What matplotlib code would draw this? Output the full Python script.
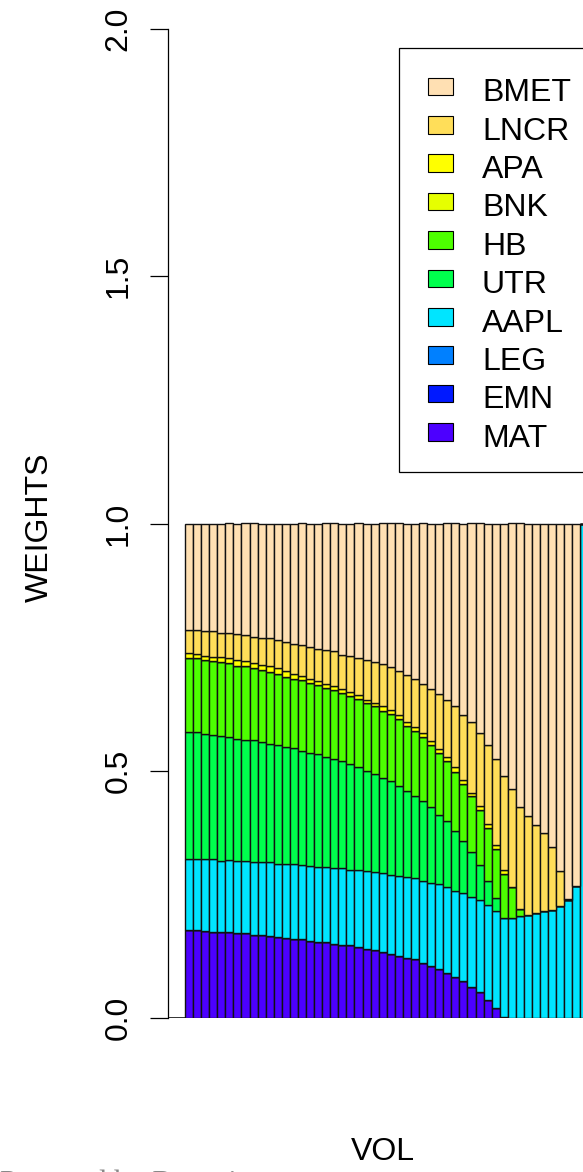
import matplotlib
matplotlib.use("Agg")
import matplotlib.pyplot as plt
from matplotlib.patches import Rectangle

plt.rcParams["font.family"] = ["Liberation Sans", "DejaVu Sans"]

# Assets, stacked from the bottom of each bar upwards
assets = ["MAT", "EMN", "LEG", "AAPL", "UTR", "HB", "BNK", "APA", "LNCR", "BMET"]
colors = ["#4C00FF", "#0019FF", "#0080FF", "#00E5FF", "#00FF4D",
          "#4DFF00", "#E6FF00", "#FFFF00", "#FFDE59", "#FFE0B3"]

# Portfolio weights along the frontier (one value per portfolio)
mat = [0.177, 0.177, 0.176, 0.173, 0.173, 0.173, 0.171, 0.171, 0.167, 0.167,
       0.166, 0.163, 0.162, 0.160, 0.160, 0.156, 0.154, 0.153, 0.150, 0.147,
       0.147, 0.144, 0.140, 0.137, 0.134, 0.130, 0.125, 0.122, 0.119, 0.112,
       0.105, 0.099, 0.092, 0.082, 0.075, 0.063, 0.052, 0.037, 0.021, 0.002,
       0.0, 0.0, 0.0, 0.0, 0.0, 0.0, 0.0, 0.0, 0.0, 0.0]
emn = [0.0] * 50
leg = [0.0] * 50
aapl = [0.145, 0.145, 0.146, 0.148, 0.145, 0.146, 0.147, 0.147, 0.149, 0.149,
        0.149, 0.149, 0.150, 0.151, 0.149, 0.152, 0.152, 0.153, 0.153, 0.156,
        0.153, 0.156, 0.158, 0.159, 0.159, 0.160, 0.163, 0.164, 0.164, 0.165,
        0.169, 0.171, 0.172, 0.175, 0.178, 0.182, 0.186, 0.191, 0.195, 0.200,
        0.202, 0.206, 0.209, 0.212, 0.216, 0.219, 0.226, 0.238, 0.267, 1.000]
utr = [0.256, 0.256, 0.253, 0.251, 0.253, 0.250, 0.247, 0.245, 0.246, 0.243,
       0.240, 0.241, 0.236, 0.234, 0.231, 0.228, 0.228, 0.221, 0.221, 0.216,
       0.214, 0.207, 0.202, 0.197, 0.193, 0.190, 0.181, 0.173, 0.166, 0.162,
       0.153, 0.140, 0.134, 0.121, 0.104, 0.091, 0.072, 0.049, 0.026, 0.0,
       0.0, 0.0, 0.0, 0.0, 0.0, 0.0, 0.0, 0.0, 0.0, 0.0]
hb = [0.151, 0.150, 0.148, 0.149, 0.149, 0.148, 0.147, 0.148, 0.145, 0.145,
      0.145, 0.143, 0.141, 0.140, 0.143, 0.142, 0.140, 0.140, 0.140, 0.139,
      0.137, 0.138, 0.136, 0.137, 0.135, 0.135, 0.136, 0.132, 0.132, 0.130,
      0.125, 0.126, 0.122, 0.119, 0.116, 0.112, 0.111, 0.107, 0.099, 0.090,
      0.062, 0.015, 0.0, 0.0, 0.0, 0.0, 0.0, 0.0, 0.0, 0.0]
bnk = [0.0] * 50
apa = [0.010, 0.008, 0.010, 0.010, 0.010, 0.012, 0.012, 0.011, 0.010, 0.010,
       0.012, 0.011, 0.012, 0.011, 0.008, 0.007, 0.007, 0.008, 0.008, 0.008,
       0.008, 0.008, 0.008, 0.008, 0.009, 0.008, 0.008, 0.008, 0.007, 0.008,
       0.008, 0.007, 0.008, 0.010, 0.008, 0.008, 0.007, 0.008, 0.008, 0.008,
       0.0, 0.0, 0.0, 0.0, 0.0, 0.0, 0.0, 0.0, 0.0, 0.0]
lncr = [0.046, 0.049, 0.049, 0.051, 0.048, 0.050, 0.052, 0.053, 0.053, 0.054,
        0.056, 0.058, 0.060, 0.060, 0.063, 0.065, 0.066, 0.070, 0.070, 0.069,
        0.073, 0.074, 0.079, 0.082, 0.086, 0.086, 0.089, 0.095, 0.097, 0.099,
        0.106, 0.113, 0.115, 0.123, 0.132, 0.142, 0.148, 0.161, 0.175, 0.190,
        0.199, 0.206, 0.199, 0.178, 0.159, 0.127, 0.071, 0.002, 0.0, 0.0]
bmet = [0.214, 0.214, 0.218, 0.218, 0.221, 0.222, 0.224, 0.226, 0.230, 0.232,
        0.232, 0.235, 0.238, 0.243, 0.247, 0.250, 0.253, 0.256, 0.259, 0.265,
        0.268, 0.274, 0.277, 0.280, 0.286, 0.292, 0.299, 0.306, 0.315, 0.325,
        0.334, 0.344, 0.358, 0.370, 0.386, 0.403, 0.425, 0.447, 0.476, 0.510,
        0.538, 0.574, 0.592, 0.610, 0.625, 0.654, 0.703, 0.760, 0.733, 0.0]

series = [mat, emn, leg, aapl, utr, hb, bnk, apa, lncr, bmet]
y_ticks = [0.0, 0.5, 1.0, 1.5, 2.0]
y_tick_labels = ["0.0", "0.5", "1.0", "1.5", "2.0"]

W, H = 583, 1172
fig = plt.figure(figsize=(W / 100, H / 100), dpi=100)
fig.patch.set_facecolor("white")

# Plot region in pixel terms
ax_left, ax_right, ax_top, ax_bottom = 168, 583, 29, 1018
ax = fig.add_axes([ax_left / W, (H - ax_bottom) / H,
                   (ax_right - ax_left) / W, (ax_bottom - ax_top) / H])
bar_px = 8.07
first_bar_px = 185
ax.set_xlim((ax_left - first_bar_px) / bar_px, (ax_right - first_bar_px) / bar_px)
ax.set_ylim(0, 2)

n = len(mat)
xs = [i + 0.5 for i in range(n)]
bottom = [0.0] * n
for vals, col in zip(series, colors):
    ax.bar(xs, vals, width=1.0, bottom=bottom, color=col,
           edgecolor="#111111", linewidth=1.0)
    bottom = [b + v for b, v in zip(bottom, vals)]

ax.axhline(0, color="#333333", linewidth=1.4, zorder=0.5)

for side in ["top", "right", "bottom"]:
    ax.spines[side].set_visible(False)
ax.spines["left"].set_bounds(0, 2)
ax.spines["left"].set_linewidth(0.9)
ax.set_xticks([])
ax.set_yticks(y_ticks)
ax.set_yticklabels(y_tick_labels, rotation=90, va="center", fontsize=23)
ax.tick_params(axis="y", length=13, width=0.9, pad=12)

# Axis titles
fig.text(40 / W, 1 - 527 / H, "WEIGHTS", rotation=90, ha="center", va="center",
         fontsize=23)
fig.text(383 / W, 1 - 1152 / H, "VOL", ha="center", va="center", fontsize=23)

# Gray serif footnote at the lower left
fig.text(0 / W, 1 - 1192 / H, "Powered by Rmetrics", ha="left", va="baseline",
         fontsize=22, color="#888888", family=["Liberation Serif", "DejaVu Serif"])

# Legend box (top to bottom: BMET ... MAT)
px = fig.dpi_scale_trans
def to_in(x, y):
    return x / 100, (H - y) / 100

bx, by = to_in(399, 472)
fig.add_artist(Rectangle((bx, by), 3.0, (472 - 48) / 100, transform=px,
                         facecolor="white", edgecolor="black", linewidth=0.9))
row0, step = 77.7, 38.4
for k, (name, col) in enumerate(zip(assets[::-1], colors[::-1])):
    top = row0 + k * step
    sx, sy = to_in(428, top + 17.5)
    fig.add_artist(Rectangle((sx, sy), 0.25, 0.175, transform=px,
                             facecolor=col, edgecolor="black", linewidth=0.8))
    tx, ty = to_in(482, top + 23.5)
    fig.text(tx, ty, name, transform=px, ha="left", va="baseline", fontsize=23)

fig.savefig("out.png", dpi=100)
